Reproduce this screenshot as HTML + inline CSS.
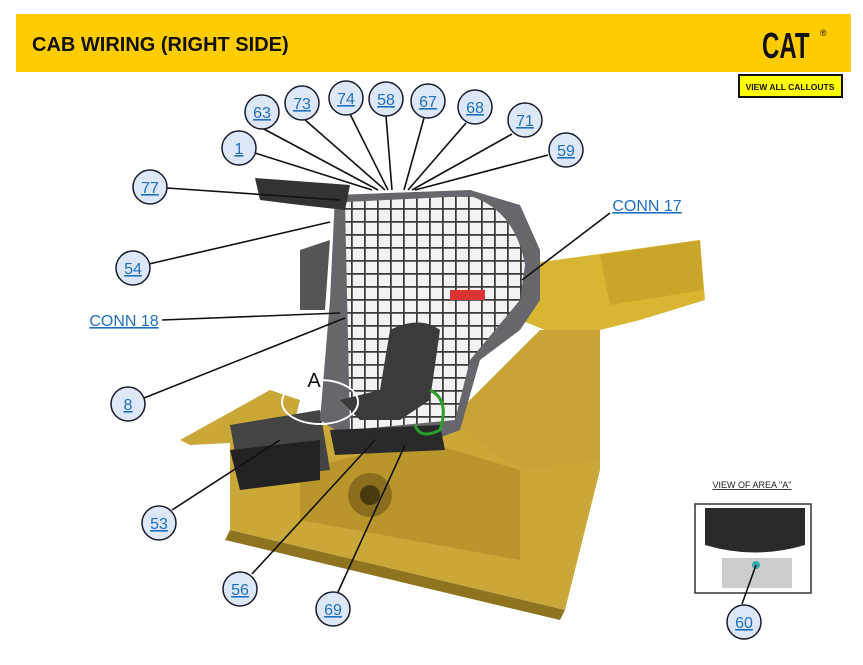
<!DOCTYPE html>
<html><head><meta charset="utf-8"><style>
html,body{margin:0;padding:0;background:#fff;width:863px;height:665px;overflow:hidden;font-family:"Liberation Sans",sans-serif}
svg{position:absolute;left:0;top:0}
.c circle{fill:#dce8f8;stroke:#1a1a2e;stroke-width:1.5}
.c text{fill:#1f6fc0;font-size:16px;text-anchor:middle;text-decoration:underline;font-family:"Liberation Sans",sans-serif}
.l{stroke:#111;stroke-width:1.6;fill:none}
</style></head><body>
<svg width="863" height="665" viewBox="0 0 863 665" font-family="Liberation Sans, sans-serif">
<defs>
<pattern id="grid" width="13" height="13" patternUnits="userSpaceOnUse">
<rect width="13" height="13" fill="#f2f2f2"/>
<path d="M0 0H13M0 0V13" stroke="#3a3a3a" stroke-width="3.5"/>
</pattern>
</defs>
<!-- header -->
<rect x="16" y="14" width="835" height="58" fill="#ffcc00"/>
<text x="32" y="51" font-size="20" font-weight="bold" fill="#111">CAB WIRING (RIGHT SIDE)</text>
<g transform="translate(762,58) scale(1,1.5)">
<text x="0" y="0" font-family="Liberation Sans, sans-serif" font-size="24" font-weight="bold" fill="#111">CAT</text>
</g>
<text x="820" y="36" font-size="9" fill="#111">®</text>
<rect x="738" y="74" width="105" height="24" fill="#111"/>
<rect x="740" y="76" width="101" height="20" fill="#ffff00"/>
<text x="790" y="90" font-size="8.5" font-weight="bold" fill="#111" text-anchor="middle">VIEW ALL CALLOUTS</text>

<!-- machine body -->
<polygon points="520,265 700,240 705,300 640,320 600,330 600,470 560,470 545,330 520,320" fill="#d8b632"/>
<polygon points="600,255 700,240 703,290 610,305" fill="#c9a52a"/>
<polygon points="230,430 420,420 600,455 600,470 565,610 230,530" fill="#c9a838"/>
<polygon points="230,530 565,610 560,620 225,540" fill="#8f7420"/>
<polygon points="300,470 420,440 520,470 520,560 300,520" fill="#b8962c"/>
<circle cx="370" cy="495" r="22" fill="#8a6e1e"/>
<circle cx="370" cy="495" r="10" fill="#4a3a10"/>
<polygon points="180,440 270,390 300,400 290,440 190,445" fill="#c9a838"/>
<polygon points="230,425 320,410 330,470 240,480" fill="#444"/>
<polygon points="230,450 320,440 320,480 240,490" fill="#222"/>
<polygon points="450,420 540,330 600,330 600,460 520,470" fill="#c8a436"/>
<!-- cab frame -->
<polygon points="335,195 470,190 520,205 540,250 540,300 520,330 480,360 460,430 420,445 350,440 320,420 330,300" fill="#66666c"/>
<path d="M345,202 L470,196 Q515,210 525,265 L520,300 L495,330 L470,360 L455,420 L350,430 Z" fill="url(#grid)"/>
<polygon points="255,178 350,185 345,210 300,205 260,200" fill="#333"/>
<polygon points="300,250 330,240 325,310 300,310" fill="#555"/>
<!-- seat -->
<path d="M390,330 Q420,315 440,330 L430,400 L400,420 L360,420 L340,400 L380,390 Z" fill="#3b3b3b"/>
<polygon points="330,430 440,425 445,450 335,455" fill="#2a2a2a"/>
<rect x="450" y="290" width="35" height="10" fill="#d33"/>
<path d="M430,390 Q450,400 440,430 Q420,440 415,425" stroke="#2a9d2a" stroke-width="3" fill="none"/>
<ellipse cx="320" cy="402" rx="38" ry="22" fill="none" stroke="#fff" stroke-width="2"/>
<text x="314" y="387" font-size="20" fill="#111" text-anchor="middle">A</text>

<!-- view of area A -->
<text x="752" y="488" font-size="9" fill="#222" text-anchor="middle" text-decoration="underline">VIEW OF AREA "A"</text>
<rect x="695" y="504" width="116" height="89" fill="#fff" stroke="#333" stroke-width="1.5"/>
<path d="M705,508 H805 V545 Q755,560 705,545 Z" fill="#2a2a2a"/>
<rect x="722" y="558" width="70" height="30" fill="#ccc"/>
<circle cx="756" cy="565" r="4" fill="#3aa"/>

<!-- leader lines -->
<g class="l">
<line x1="262" y1="128" x2="378" y2="190"/>
<line x1="304" y1="119" x2="385" y2="190"/>
<line x1="350" y1="114" x2="388" y2="190"/>
<line x1="386" y1="116" x2="392" y2="190"/>
<line x1="424" y1="118" x2="404" y2="190"/>
<line x1="466" y1="123" x2="408" y2="190"/>
<line x1="512" y1="134" x2="412" y2="190"/>
<line x1="548" y1="155" x2="415" y2="190"/>
<line x1="255" y1="153" x2="372" y2="190"/>
<line x1="167" y1="188" x2="340" y2="200"/>
<line x1="149" y1="264" x2="330" y2="222"/>
<line x1="162" y1="320" x2="340" y2="313"/>
<line x1="144" y1="398" x2="345" y2="318"/>
<line x1="610" y1="213" x2="522" y2="280"/>
<line x1="172" y1="510" x2="280" y2="440"/>
<line x1="252" y1="574" x2="375" y2="440"/>
<line x1="338" y1="592" x2="405" y2="445"/>
<line x1="742" y1="604" x2="756" y2="565"/>
</g>

<!-- callouts -->
<g class="c">
<circle cx="262" cy="112" r="17"/><text x="262" y="118">63</text>
<circle cx="302" cy="103" r="17"/><text x="302" y="109">73</text>
<circle cx="346" cy="98" r="17"/><text x="346" y="104">74</text>
<circle cx="386" cy="99" r="17"/><text x="386" y="105">58</text>
<circle cx="428" cy="101" r="17"/><text x="428" y="107">67</text>
<circle cx="475" cy="107" r="17"/><text x="475" y="113">68</text>
<circle cx="525" cy="120" r="17"/><text x="525" y="126">71</text>
<circle cx="566" cy="150" r="17"/><text x="566" y="156">59</text>
<circle cx="239" cy="148" r="17"/><text x="239" y="154">1</text>
<circle cx="150" cy="187" r="17"/><text x="150" y="193">77</text>
<circle cx="133" cy="268" r="17"/><text x="133" y="274">54</text>
<circle cx="128" cy="404" r="17"/><text x="128" y="410">8</text>
<circle cx="159" cy="523" r="17"/><text x="159" y="529">53</text>
<circle cx="240" cy="589" r="17"/><text x="240" y="595">56</text>
<circle cx="333" cy="609" r="17"/><text x="333" y="615">69</text>
<circle cx="744" cy="622" r="17"/><text x="744" y="628">60</text>
<text x="124" y="326">CONN 18</text>
<text x="647" y="211">CONN 17</text>
</g>
</svg>
</body></html>
